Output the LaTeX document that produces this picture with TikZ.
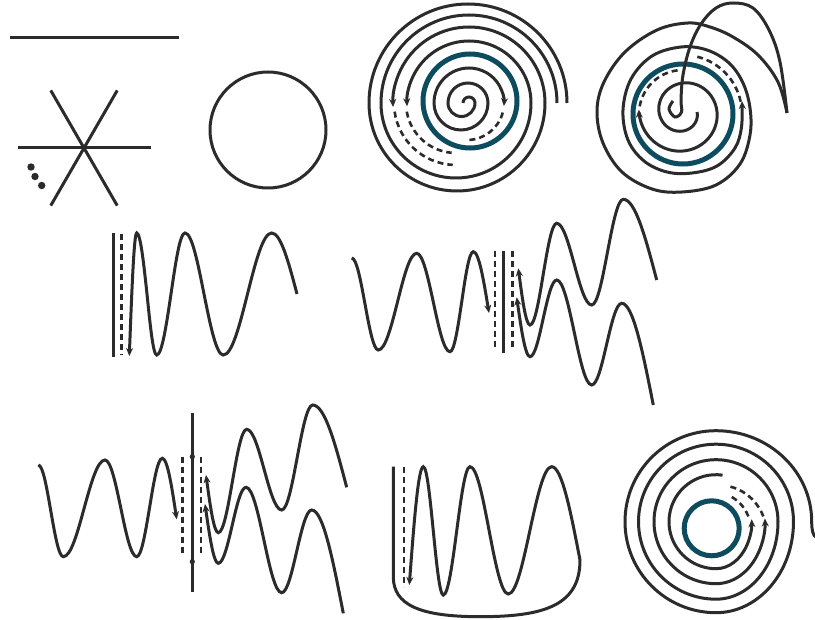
\documentclass[tikz,border=0pt]{standalone}
\usetikzlibrary{arrows.meta}
\definecolor{ink}{RGB}{43,43,43}
\definecolor{deepteal}{RGB}{12,76,94}
\tikzset{
  inkline/.style={ink, line width=3pt},
  tealring/.style={deepteal, line width=5pt},
  dashline/.style={ink, line width=2.6pt, dash pattern=on 6pt off 4pt},
  arrowend/.style={-{Stealth[length=8pt,width=7pt]}},
}
\begin{document}
\begin{tikzpicture}[x=1pt,y=-1pt]
\useasboundingbox (0,0) rectangle (815,620);
% line and star
\draw[inkline] (10,38) -- (179,38);
\foreach \a in {0,60,120} \draw[inkline] (84,148) ++(\a:66.5) -- ++(\a+180:133);
\foreach \p in {(31,167),(35,176.5),(41.7,185.5)} \fill[ink] \p circle (3.7);
% circle
\draw[inkline] (268,130) circle (58);

% first spiral
\draw[tealring] (470,101) circle (47);
\draw[inkline,arrowend] (567,103) arc[start angle=0,end angle=-180,radius=99]
  arc[start angle=180,end angle=0,radius=88] arc[start angle=0,end angle=-183,radius=76];
\draw[inkline,arrowend] (557,103) arc[start angle=0,end angle=-180,radius=88]
  arc[start angle=180,end angle=0,radius=75] arc[start angle=0,end angle=-183,radius=62];
\draw[dashline] (456,103) ++(172:62) arc[start angle=172,end angle=93,radius=62];
\draw[dashline] (456,103) ++(170:50) arc[start angle=170,end angle=95,radius=50];
\draw[inkline,arrowend] (463,103) arc[start angle=180,end angle=360,radius=6]
  arc[start angle=0,end angle=180,radius=13.5] arc[start angle=180,end angle=360,radius=20]
  arc[start angle=0,end angle=180,radius=27] arc[start angle=180,end angle=365,radius=35];
\draw[dashline] (467,103) ++(15:37) arc[start angle=15,end angle=88,radius=37];

% second spiral with the loop
\draw[tealring] (683,114) circle (50);
\draw[inkline] plot[smooth,tension=0.6] coordinates {(673,101) (669,109) (675,117) (681.5,112)
  (681,100) (683,75) (690,47) (701,24) (716,8) (733,3) (753,8) (769,30) (780,62) (787,113)};
\draw[inkline,arrowend] plot[smooth,tension=0.6] coordinates {(787,113) (778,82) (758,55)
  (733,37) (710,27) (688,23) (657,30) (625,52) (604,82) (597,111) (603,143) (622,172)
  (652,189) (682,192) (716,185) (740,164) (750,135) (750,108) (743,83) (729,63) (707,50)
  (681,47) (652,56) (631,79) (623,110) (628,140) (644,161) (667,172) (692,173) (717,166)
  (735,148) (741.5,127) (742,101)};
\draw[inkline,arrowend] plot[domain=0:543,samples=150,variable=\t]
  ({683+(14+0.0556*\t)*cos(\t)},{112+(14+0.0556*\t)*sin(\t)});
\draw[dashline] (683,114) ++(190:44) arc[start angle=190,end angle=268,radius=44];
\draw[dashline] (683,114) ++(-12:59) arc[start angle=-12,end angle=-76,radius=59];

% waves, first panel
\draw[inkline] (113.3,233) -- (113.3,357);
\draw[dashline] (121.7,234) -- (121.7,355);
\draw[inkline,arrowend] (297,294) sin (271.7,233) cos (247.5,294) sin (223.3,355)
  cos (204,294) sin (185,233) cos (171,294) sin (156.7,355) cos (147,294)
  sin (136.7,233) cos (129.3,356);

% waves, second panel
\draw[inkline] (503.3,251) -- (503.3,353.3);
\draw[dashline] (495,251) -- (495,347);
\draw[dashline] (512.3,251) -- (512.3,347);
\draw[inkline,arrowend] (351.7,258) cos (365,304) sin (378.3,350) cos (397.5,302)
  sin (416.7,253.3) cos (433.3,302) sin (450,351.7) cos (461.7,302) sin (473.3,251.7)
  cos (489,313);
\draw[inkline,arrowend] (656.7,280) sin (623.3,199.3) cos (607.5,252) sin (591.7,305)
  cos (574.2,264) sin (556.7,223.3) cos (543.3,274) sin (530,325) cos (518.3,268.3);
\draw[inkline,arrowend] (653.3,405) sin (621.7,303.3) cos (606.7,344) sin (591.7,385)
  cos (574.2,332) sin (556.7,280) cos (543.3,318) sin (530,356.7) cos (516.7,297.3);

% waves, third panel
\draw[inkline] (192.3,413.3) -- (192.3,591.7);
\fill[ink] (192.3,456.7) circle (2.6) (192.3,561.7) circle (2.6);
\draw[dashline] (182.7,456.7) -- (182.7,553.3);
\draw[dashline] (201,456.7) -- (201,553.3);
\draw[inkline,arrowend] (38.3,465) cos (50.8,511) sin (63.3,556.7) cos (84.2,508)
  sin (105,460) cos (120.8,508) sin (136.7,556.7) cos (149.5,508) sin (162.3,458.3)
  cos (176.7,519.3);
\draw[inkline,arrowend] (346.7,487.3) sin (312.7,405) cos (297.2,457.5) sin (281.7,510)
  cos (264.2,469.7) sin (246.7,429.3) cos (232.5,481) sin (218.3,532.7) cos (206,475);
\draw[inkline,arrowend] (343.3,613.3) sin (311.7,510) cos (296.7,551.3) sin (281.7,592.7)
  cos (263.9,540) sin (246,487.3) cos (232.2,525.3) sin (218.3,563.3) cos (205,504);

% waves, fourth panel
\draw[dashline] (404,466.7) -- (404,586.7);
\draw[inkline,arrowend] (393.3,466.7) -- (393.3,576.7)
  .. controls (393.3,605) and (420,616.7) .. (480,616.7)
  .. controls (545,616.7) and (580,605) .. (580,560)
  sin (551.7,466.7) cos (530,530) sin (508.3,594) cos (489,530) sin (470,466.7)
  cos (456.7,531) sin (443.3,595) cos (433.3,531) sin (423.3,466.7) cos (409.3,585);

% third spiral
\draw[tealring] (711.7,528.3) circle (27.5);
\draw[inkline,arrowend] (815.5,537) .. controls (813,535) and (811.7,530) .. (811.7,521.7)
  arc[start angle=0,end angle=-90,x radius=95.7,y radius=91]
  arc[start angle=-90,end angle=-270,radius=91]
  arc[start angle=90,end angle=0,x radius=77.5,y radius=91]
  arc[start angle=0,end angle=-270,radius=77.5]
  arc[start angle=90,end angle=0,x radius=62,y radius=77.5]
  arc[start angle=0,end angle=-270,radius=62]
  arc[start angle=90,end angle=-3,x radius=49,y radius=62];
\draw[inkline,arrowend] (716,521.7) ++(-82:47) arc[start angle=-82,end angle=-270,radius=47]
  arc[start angle=90,end angle=-3,x radius=35.7,y radius=47];
\draw[dashline] plot[domain=0:1,samples=20,variable=\u]
  ({711.7+(38.5-1.5*\u)*cos(-18-44*\u)},{528.3+(38.5-1.5*\u)*sin(-18-44*\u)});
\draw[dashline] plot[domain=0:1,samples=20,variable=\u]
  ({711.7+(53-7.4*\u)*cos(-13-53*\u)},{528.3+(53-7.4*\u)*sin(-13-53*\u)});
\end{tikzpicture}
\end{document}
